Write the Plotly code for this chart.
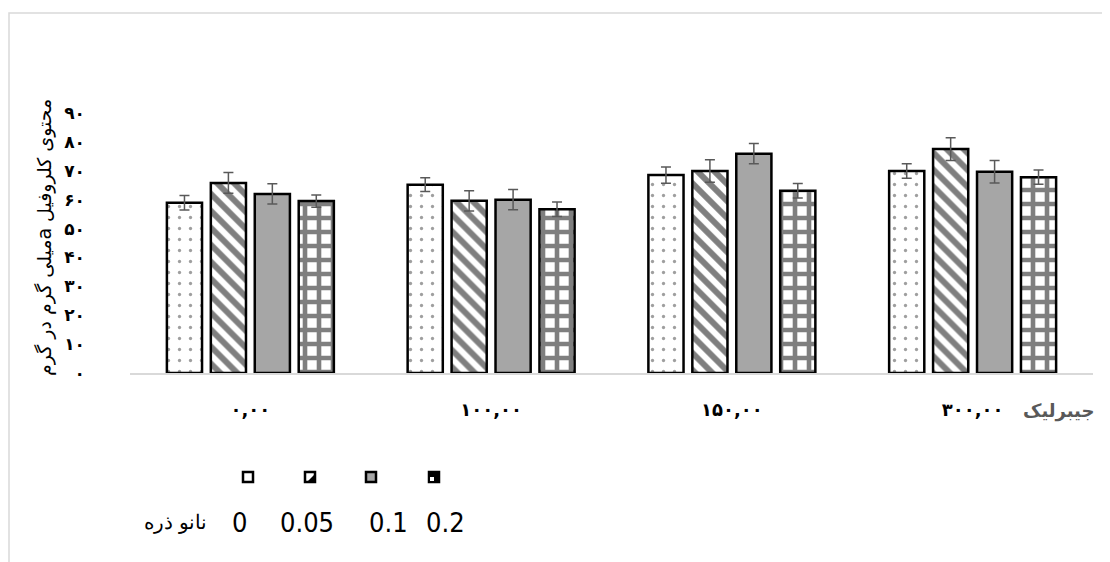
import plotly.graph_objects as go

# --- Dados ---
categorias = ['۰,۰۰', '۱۰۰,۰۰', '۱۵۰,۰۰', '۳۰۰,۰۰']
series_nomes = ['0', '0.05', '0.1', '0.2']

valores_0 = [58.9, 65.2, 68.5, 69.9]
valores_005 = [65.8, 59.6, 69.9, 77.5]
valores_01 = [62.0, 60.0, 75.9, 69.7]
valores_02 = [59.5, 56.7, 63.1, 67.8]

erros_0 = [2.5, 2.4, 2.8, 2.5]
erros_005 = [3.6, 3.5, 3.9, 3.9]
erros_01 = [3.5, 3.5, 3.5, 3.9]
erros_02 = [2.1, 2.5, 2.5, 2.5]

y_ticks = [0, 10, 20, 30, 40, 50, 60, 70, 80, 90]
y_ticklabels = ['۰', '۱۰', '۲۰', '۳۰', '۴۰', '۵۰', '۶۰', '۷۰', '۸۰', '۹۰']

titulo_y = '\u202bمحتوی کلروفیل aمیلی گرم در گرم\u202c'
titulo_x = 'جیبرلیک'
titulo_legenda = 'نانو ذره'

# --- Área do gráfico em pixels (a página tem 8px de margem) ---
W, H = 1110, 562
OFS = 8
L, R, T, B = 130 - OFS, 1093 - OFS, 113 - OFS, 373 - OFS


def px_x(px):
    """Converte pixel horizontal (da imagem) para coordenada 'paper'."""
    return (px - OFS - L) / (R - L)


def px_y(py):
    """Converte pixel vertical (da imagem) para coordenada 'paper'."""
    return (B - (py - OFS)) / (B - T)


# estilos de cada série (padrão de preenchimento)
estilos = [
    dict(color='white', pattern=dict(shape='.', fgcolor='#404040', bgcolor='white', size=11, solidity=0.07)),
    dict(color='white', pattern=dict(shape='\\', fgcolor='black', bgcolor='white', size=12, solidity=0.5)),
    dict(color='#a6a6a6'),
    dict(color='white', pattern=dict(shape='+', fgcolor='black', bgcolor='white', size=14, solidity=0.55)),
]

valores = [valores_0, valores_005, valores_01, valores_02]
erros = [erros_0, erros_005, erros_01, erros_02]

fig = go.Figure()

for nome, vals, errs, estilo in zip(series_nomes, valores, erros, estilos):
    fig.add_trace(go.Bar(
        x=categorias, y=vals, name=nome,
        marker=dict(line=dict(color='black', width=2.5), **estilo),
        error_y=dict(type='data', array=errs, color='#595959', thickness=1.5, width=5),
        showlegend=False,
    ))

# --- Legenda manual (quadradinhos em cima, textos embaixo) ---
legenda_x = [248, 310, 371, 434]
legenda_cor = ['white', 'white', '#a6a6a6', 'black']
shapes = []
for cx, cor in zip(legenda_x, legenda_cor):
    shapes.append(dict(type='rect', xref='paper', yref='paper',
                       x0=px_x(cx - 5), x1=px_x(cx + 5), y0=px_y(482), y1=px_y(472),
                       fillcolor=cor, line=dict(color='black', width=2.5)))
# detalhe do quadrado listrado
shapes.append(dict(type='path', xref='paper', yref='paper',
                   path=f'M {px_x(315)},{px_y(474)} L {px_x(315)},{px_y(482)} L {px_x(307)},{px_y(482)} Z',
                   fillcolor='black', line=dict(width=0)))
# detalhe do quadrado xadrez
shapes.append(dict(type='rect', xref='paper', yref='paper',
                   x0=px_x(430), x1=px_x(434), y0=px_y(481), y1=px_y(477),
                   fillcolor='white', line=dict(width=0)))

# borda da área do gráfico
shapes.append(dict(type='rect', xref='paper', yref='paper',
                   x0=px_x(9), x1=px_x(1125), y0=px_y(580), y1=px_y(13),
                   line=dict(color='#d9d9d9', width=1.5), layer='below'))

fonte_legenda = 'Liberation Sans Narrow, DejaVu Sans Condensed, Arial Narrow, sans-serif'
anotacoes = [
    dict(text=titulo_y, x=px_x(44), y=px_y(238), textangle=-90,
         font=dict(size=19, color='black', family='DejaVu Sans, sans-serif')),
    dict(text=f'<b>{titulo_x}</b>', x=px_x(1058), y=px_y(411),
         font=dict(size=18, color='#595959', family='DejaVu Sans, sans-serif')),
    dict(text=titulo_legenda, x=px_x(175), y=px_y(522),
         font=dict(size=20, color='black', family='DejaVu Serif, serif')),
]
legenda_texto_x = [239, 307, 388, 445]
for nome, tx in zip(series_nomes, legenda_texto_x):
    anotacoes.append(dict(text=nome, x=px_x(tx), y=px_y(522),
                          font=dict(size=27, color='black', family=fonte_legenda)))
for a in anotacoes:
    a.update(xref='paper', yref='paper', showarrow=False, xanchor='center', yanchor='middle')

# --- Layout ---
fig.update_layout(
    width=W, height=H,
    margin=dict(l=L, r=W - R, t=T, b=H - B),
    paper_bgcolor='white', plot_bgcolor='white',
    barmode='group', bargap=0.27, bargroupgap=0.2,
    shapes=shapes, annotations=anotacoes,
    xaxis=dict(showline=True, linecolor='#d9d9d9', linewidth=1.5, showgrid=False,
               ticks='', ticklabelstandoff=20, automargin=False,
               tickfont=dict(size=18, color='black', family='DejaVu Sans, sans-serif', weight='bold')),
    yaxis=dict(range=[0, 90], tickvals=y_ticks, ticktext=y_ticklabels, showgrid=False,
               showline=False, zeroline=False, ticks='', ticklabelstandoff=44, automargin=False,
               tickfont=dict(size=17, color='black', family='DejaVu Sans, sans-serif', weight='bold')),
)

fig.write_html("out.html")
